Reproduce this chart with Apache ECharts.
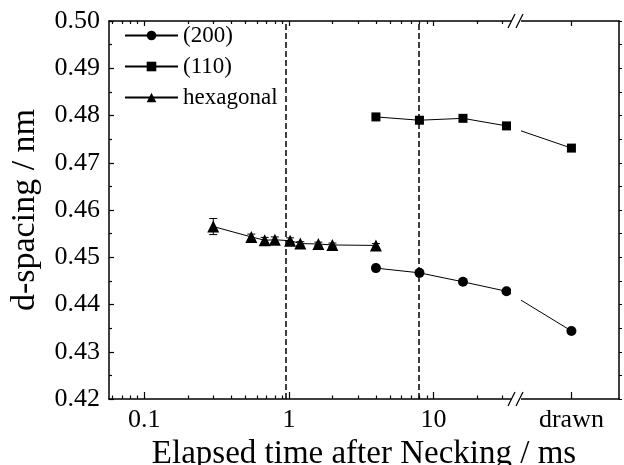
<!DOCTYPE html>
<html><head><meta charset="utf-8">
<script src="https://cdn.jsdelivr.net/npm/echarts@6/dist/echarts.min.js"></script>
<style>html,body{margin:0;padding:0;background:#fff}#c{width:624px;height:465px}</style>
</head><body><div id="c"></div>
<script>
// ---- data ----
const DRAWN = 'drawn';
const timesCubic = [4, 8, 16, 32, DRAWN];           // ms
const d200 = [0.4477, 0.4467, 0.4448, 0.4428, 0.4344];
const d110 = [0.4797, 0.4790, 0.4794, 0.4778, 0.4731];
const timesHex = [0.3, 0.55, 0.68, 0.8, 1.02, 1.2, 1.6, 2.0, 4.0];
const dHex = [0.4565, 0.4543, 0.4536, 0.4537, 0.4535, 0.4529, 0.4528, 0.4526, 0.4525];
const errHex = [0.0017, 0.0006, 0.0006, 0.0006, 0.0006, 0.0004, 0.0004, 0.0004, 0.0004];
const dashedTimes = [0.955, 7.85];
const xLabelTicks = [0.1, 1, 10, DRAWN];
const xMinorTicks = [0.06, 0.07, 0.08, 0.09, 0.2, 0.3, 0.4, 0.5, 0.6, 0.7, 0.8, 0.9,
                     2, 3, 4, 5, 6, 7, 8, 9, 20, 30];
const yTickLabels = ['0.42','0.43','0.44','0.45','0.46','0.47','0.48','0.49','0.50'];

// ---- layout ----
const DRAWN_POS = 90;              // place on the broken log axis used for the "drawn" sample
const toX = t => (t === DRAWN ? DRAWN_POS : t);
const FONT = 'Liberation Serif';
const X_MIN = 0.057, X_MAX = 192;
const Y_MIN = 0.42, Y_MAX = 0.50;
const G = {left: 109, top: 21, right: 5, bottom: 66, containLabel: false, outerBoundsMode: 'none'};
const black = '#000';

const chart = echarts.init(document.getElementById('c'), null, {renderer: 'canvas'});

function xAxisBase(gridIndex, position) {
  return {
    type: 'log', logBase: 10, gridIndex, position, min: X_MIN, max: X_MAX,
    splitLine: {show: false}, minorTick: {show: false}, minorSplitLine: {show: false},
    axisLine: {show: true, lineStyle: {color: black, width: 1.5}},
  };
}

const option = {
  animation: false,
  backgroundColor: '#fff',
  grid: [Object.assign({}, G), Object.assign({}, G)],
  xAxis: [
    Object.assign(xAxisBase(0, 'bottom'), {
      axisTick: {inside: true, length: 7, customValues: xLabelTicks.map(toX), lineStyle: {color: black, width: 1.2}},
      axisLabel: {customValues: xLabelTicks.map(toX), formatter: v => (v === DRAWN_POS ? 'drawn' : String(v)),
                  fontFamily: FONT, fontSize: 26, color: black, margin: 8},
      name: 'Elapsed time after Necking / ms', nameLocation: 'middle', nameGap: 31,
      nameTextStyle: {fontFamily: FONT, fontSize: 33, color: black}
    }),
    Object.assign(xAxisBase(0, 'top'), {
      axisTick: {inside: true, length: 5, customValues: xLabelTicks.map(toX), lineStyle: {color: black, width: 1.2}},
      axisLabel: {show: false}
    }),
    Object.assign(xAxisBase(1, 'bottom'), {
      axisLine: {show: false},
      axisTick: {inside: true, length: 3.5, customValues: xMinorTicks, lineStyle: {color: black, width: 1.2}},
      axisLabel: {show: false}
    }),
    Object.assign(xAxisBase(1, 'top'), {
      axisLine: {show: false},
      axisTick: {inside: true, length: 3, customValues: xMinorTicks, lineStyle: {color: black, width: 1.2}},
      axisLabel: {show: false}
    })
  ],
  yAxis: [
    {
      type: 'value', gridIndex: 0, position: 'left', min: Y_MIN, max: Y_MAX, interval: 0.01,
      axisLine: {show: true, lineStyle: {color: black, width: 1.5}},
      axisTick: {inside: true, length: 5, lineStyle: {color: black, width: 1.2}},
      minorTick: {show: true, splitNumber: 2, length: 3, lineStyle: {color: black, width: 1.2}},
      splitLine: {show: false},
      axisLabel: {formatter: v => yTickLabels.find(s => Math.abs(parseFloat(s) - v) < 1e-6) || '',
                  fontFamily: FONT, fontSize: 26, color: black, margin: 9},
      name: 'd-spacing / nm', nameLocation: 'middle', nameGap: 67, nameRotate: 90,
      nameTextStyle: {fontFamily: FONT, fontSize: 34, color: black}
    },
    {
      type: 'value', gridIndex: 0, position: 'right', min: Y_MIN, max: Y_MAX, interval: 0.01,
      axisLine: {show: true, lineStyle: {color: black, width: 1.5}},
      axisTick: {inside: false, length: 3, lineStyle: {color: black, width: 1}},
      minorTick: {show: true, splitNumber: 2, length: 3, lineStyle: {color: black, width: 1}},
      splitLine: {show: false}, axisLabel: {show: false}
    },
    {type: 'value', gridIndex: 1, min: Y_MIN, max: Y_MAX, show: false}
  ],
  legend: {
    data: ['(200)', '(110)', 'hexagonal'],
    orient: 'vertical', left: 119, top: 19, padding: 5, itemWidth: 53, itemHeight: 12, itemGap: 8,
    textStyle: {fontFamily: FONT, fontSize: 23, color: black, lineHeight: 23}
  },
  series: [
    {
      name: '(200)', type: 'line', xAxisIndex: 0, yAxisIndex: 0,
      data: timesCubic.map((t, i) => [toX(t), d200[i]]),
      symbol: 'circle', symbolSize: 10, color: black, lineStyle: {color: black, width: 1},
      markLine: {
        silent: true, symbol: 'none', label: {show: false},
        lineStyle: {color: black, type: [6, 3], width: 1.5},
        data: dashedTimes.map(t => ({xAxis: t}))
      }
    },
    {
      name: '(110)', type: 'line', xAxisIndex: 0, yAxisIndex: 0,
      data: timesCubic.map((t, i) => [toX(t), d110[i]]),
      symbol: 'rect', symbolSize: 9, color: black, lineStyle: {color: black, width: 1}
    },
    {
      name: 'hexagonal', type: 'line', xAxisIndex: 0, yAxisIndex: 0,
      data: timesHex.map((t, i) => [t, dHex[i]]),
      symbol: 'triangle', symbolSize: 12, color: black, lineStyle: {color: black, width: 1}
    },
    {
      name: 'hexErr', type: 'custom', xAxisIndex: 0, yAxisIndex: 0,
      data: timesHex.map((t, i) => [t, dHex[i] - errHex[i], dHex[i] + errHex[i]]),
      renderItem: (params, api) => {
        const lo = api.coord([api.value(0), api.value(1)]);
        const hi = api.coord([api.value(0), api.value(2)]);
        const w = 4;
        const st = {stroke: black, lineWidth: 1};
        return {type: 'group', children: [
          {type: 'line', shape: {x1: lo[0], y1: lo[1], x2: hi[0], y2: hi[1]}, style: st},
          {type: 'line', shape: {x1: lo[0] - w, y1: lo[1], x2: lo[0] + w, y2: lo[1]}, style: st},
          {type: 'line', shape: {x1: hi[0] - w, y1: hi[1], x2: hi[0] + w, y2: hi[1]}, style: st}
        ]};
      },
      z: 1
    }
  ],
  graphic: [
    {type: 'rect', shape: {x: 511, y: 8, width: 10, height: 405}, style: {fill: '#fff'}, z: 100},
    {type: 'line', shape: {x1: 508, y1: 28, x2: 515, y2: 14}, style: {stroke: black, lineWidth: 1.2}, z: 101},
    {type: 'line', shape: {x1: 516, y1: 28, x2: 523, y2: 14}, style: {stroke: black, lineWidth: 1.2}, z: 101},
    {type: 'line', shape: {x1: 508, y1: 406, x2: 515, y2: 392}, style: {stroke: black, lineWidth: 1.2}, z: 101},
    {type: 'line', shape: {x1: 516, y1: 406, x2: 523, y2: 392}, style: {stroke: black, lineWidth: 1.2}, z: 101}
  ]
};
chart.setOption(option);
</script>
</body></html>
